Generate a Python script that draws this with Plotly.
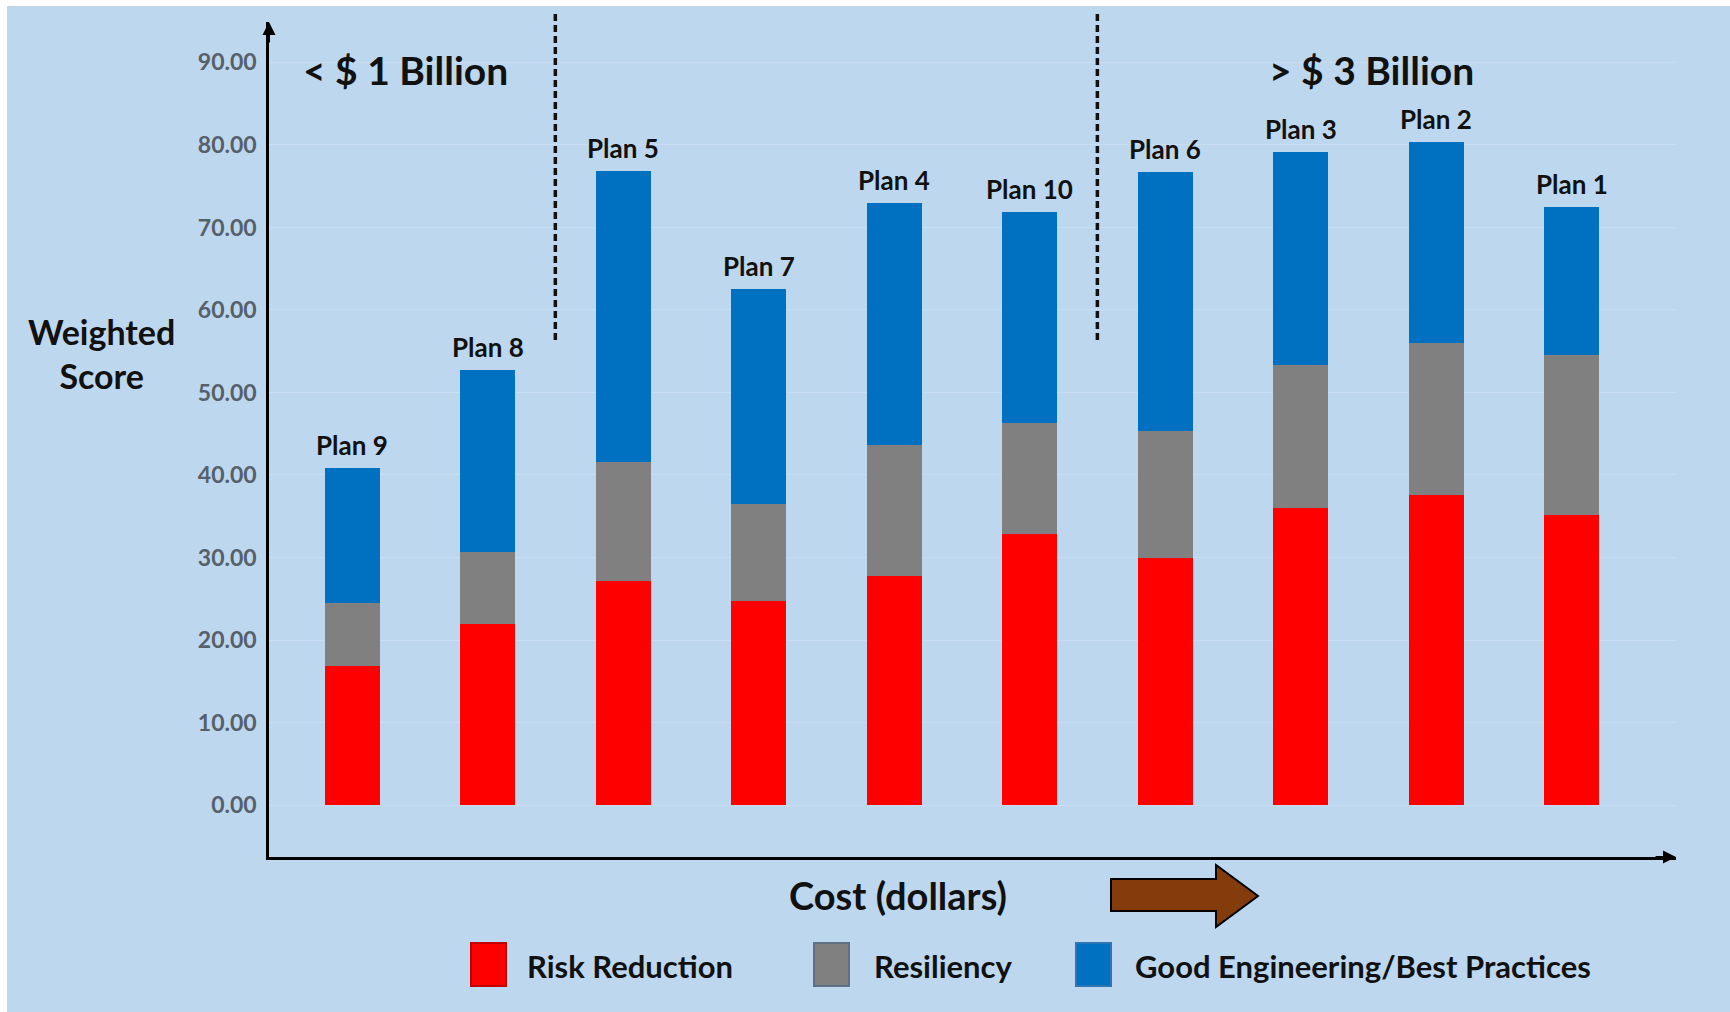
import plotly.graph_objects as go

# ---- data -------------------------------------------------------------
plans = ["Plan 9", "Plan 8", "Plan 5", "Plan 7", "Plan 4",
         "Plan 10", "Plan 6", "Plan 3", "Plan 2", "Plan 1"]
risk_reduction = [16.8, 22.0, 27.1, 24.7, 27.7, 32.8, 29.9, 36.0, 37.6, 35.2]
resiliency = [7.7, 8.7, 14.5, 11.8, 15.9, 13.5, 15.4, 17.3, 18.4, 19.3]
good_engineering = [16.3, 22.0, 35.2, 26.0, 29.4, 25.6, 31.4, 25.9, 24.4, 18.0]
y_ticks = [0, 10, 20, 30, 40, 50, 60, 70, 80, 90]
series_names = ["Risk Reduction", "Resiliency", "Good Engineering/Best Practices"]
series_colors = ["#FF0000", "#808080", "#0070C0"]
legend_edge = ["#C00000", "#5F6F84", "#2E75B6"]

W, H = 1730, 1012
BG = "#BDD7EE"
FONT = "Lato"
INK = "#111111"


def px(x):
    return x / W


def py(y):
    return 1 - y / H


fig = go.Figure()
for name, vals, col in zip(series_names,
                           [risk_reduction, resiliency, good_engineering],
                           series_colors):
    fig.add_trace(go.Bar(x=plans, y=vals, name=name,
                         marker=dict(color=col, line=dict(width=0)),
                         showlegend=False))

totals = [a + b + c for a, b, c in zip(risk_reduction, resiliency, good_engineering)]


def label(x, y, text, size, **kw):
    d = dict(x=px(x), y=py(y), xref="paper", yref="paper", text=text,
             showarrow=False, xanchor="center", yanchor="middle",
             font=dict(family=FONT, size=size, color=INK))
    d.update(kw)
    return d


annotations = []
# plan labels above each stack
for p, t in zip(plans, totals):
    annotations.append(dict(x=p, y=t, xref="x", yref="y", text=f"<b>{p}</b>",
                            showarrow=False, xanchor="center", yanchor="middle",
                            yshift=23, font=dict(family=FONT, size=26, color=INK)))

# cost-band headings and axis titles
annotations += [
    label(405, 70, "<b>< $ 1 Billion</b>", 39),
    label(1371, 70, "<b>> $ 3 Billion</b>", 39),
    label(101, 353, "<b>Weighted<br>Score</b>", 34),
    label(898, 895, "<b>Cost (dollars)</b>", 38),
]

# arrowheads on the axis lines
annotations += [
    dict(x=px(269), y=py(22), xref="paper", yref="paper", ax=0, ay=22, text="",
         showarrow=True, arrowhead=2, arrowsize=1.3, arrowwidth=2, arrowcolor="black",
         standoff=0),
    dict(x=px(1676), y=py(857), xref="paper", yref="paper", ax=-22, ay=0, text="",
         showarrow=True, arrowhead=2, arrowsize=1.3, arrowwidth=2, arrowcolor="black",
         standoff=0),
]

shapes = [
    # panel background with thin white border top/left
    dict(type="rect", xref="paper", yref="paper", x0=px(7), x1=1, y0=0, y1=py(6),
         fillcolor=BG, line=dict(width=0), layer="below"),
    # cost band separators
    dict(type="line", xref="x", yref="paper", x0=1.5, x1=1.5, y0=py(340), y1=py(13),
         line=dict(color=INK, width=3.5, dash="7px,4px")),
    dict(type="line", xref="x", yref="paper", x0=5.5, x1=5.5, y0=py(340), y1=py(13),
         line=dict(color=INK, width=3.5, dash="7px,4px")),
    # increasing-cost arrow
    dict(type="path", xref="paper", yref="paper",
         path=(f"M {px(1111)},{py(879)} L {px(1216)},{py(879)} L {px(1216)},{py(865)} "
               f"L {px(1258)},{py(896)} L {px(1216)},{py(927)} L {px(1216)},{py(911)} "
               f"L {px(1111)},{py(911)} Z"),
         fillcolor="#843C0C", line=dict(color="black", width=2)),
]

# hand-placed legend
legend_x = [(471, 506), (814, 849), (1076, 1111)]
text_x = [525, 872, 1133]
for (x0, x1), tx, name, col, edge in zip(legend_x, text_x, series_names,
                                           series_colors, legend_edge):
    shapes.append(dict(type="rect", xref="paper", yref="paper",
                       x0=px(x0), x1=px(x1), y0=py(986), y1=py(943),
                       fillcolor=col, line=dict(color=edge, width=2)))
    annotations.append(label(tx, 966, f"<b>{name}</b>", 31, xanchor="left"))

fig.update_layout(
    width=W, height=H,
    margin=dict(l=0, r=0, t=0, b=0),
    paper_bgcolor="white",
    plot_bgcolor="rgba(0,0,0,0)",
    barmode="stack",
    bargap=0.595,
    showlegend=False,
    shapes=shapes,
    annotations=annotations,
    xaxis=dict(domain=[px(269), px(1676)], range=[-0.613, 9.77],
               showticklabels=False, ticks="", showgrid=False, zeroline=False,
               showline=True, linecolor="black", linewidth=2.5,
               anchor="y", position=0),
    yaxis=dict(domain=[py(857), py(22)], range=[-6.3, 94.9],
               tickvals=y_ticks, tickformat=".2f", ticks="",
               tickfont=dict(family=FONT, size=23, color="#56606B", weight="bold"),
               ticklabelstandoff=5,
               showgrid=True, gridcolor="rgba(255,255,255,0.17)", gridwidth=1,
               zeroline=False, showline=True, linecolor="black", linewidth=2.5),
)

fig.write_html("out.html")
